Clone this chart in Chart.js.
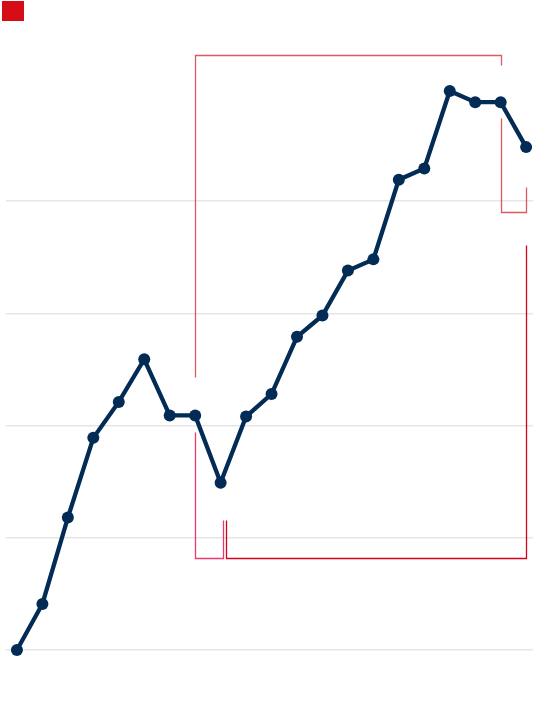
<!DOCTYPE html>
<html lang="en">
<head>
    <meta charset="UTF-8">
    <title>Line chart</title>
    <script src="https://cdn.jsdelivr.net/npm/chart.js"></script>
    <style>
        html, body {
            margin: 0;
            padding: 0;
            background: #ffffff;
        }
        #wrap {
            position: relative;
            width: 560px;
            height: 714px;
        }
        #legend-box {
            position: absolute;
            left: 2px;
            top: 1px;
            width: 22px;
            height: 20px;
            background-color: #d60d16;
        }
    </style>
</head>
<body>
    <div id="wrap">
        <canvas id="lineChart" width="560" height="714"></canvas>
        <div id="legend-box"></div>
    </div>

    <script>
        // data points, one per period
        var periods = [1, 2, 3, 4, 5, 6, 7, 8, 9, 10, 11, 12, 13, 14, 15, 16, 17, 18, 19, 20, 21];
        var values = [0, 4.1, 11.8, 18.9, 22.1, 25.9, 20.9, 20.9, 14.9, 20.8, 22.8,
                      27.9, 29.8, 33.8, 34.8, 41.9, 42.9, 49.8, 48.8, 48.8, 44.8];
        var gridTicks = [0, 10, 20, 30, 40];

        // bracket annotations, in data space: [period index, value]
        var bracketTop = [[7, 24.35], [7, 53.0], [19, 53.0], [19, 52.1]];
        var bracketEnd = [[19, 47.4], [19, 39.05], [20, 39.05], [20, 41.25]];
        var bracketLow = [[20, 36.1], [20, 8.17], [8.2, 8.17], [8.2, 11.6]];
        var bracketDip = [[7, 19.45], [7, 8.17], [8.08, 8.17], [8.08, 11.6]];

        var brackets = [
            { pts: bracketTop, color: 'rgba(214, 48, 56, 0.8)' },
            { pts: bracketEnd, color: 'rgba(214, 48, 56, 0.8)' },
            { pts: bracketLow, color: '#d9001b' },
            { pts: bracketDip, color: '#e83a6e' }
        ];

        var bracketPlugin = {
            id: 'brackets',
            beforeDatasetsDraw: function(chart) {
                var ctx = chart.ctx;
                var xs = chart.scales.x;
                var ys = chart.scales.y;
                ctx.save();
                ctx.lineWidth = 1.3;
                brackets.forEach(function(b) {
                    ctx.beginPath();
                    b.pts.forEach(function(p, i) {
                        var px = Math.round(xs.getPixelForValue(p[0])) + 0.5;
                        var py = Math.round(ys.getPixelForValue(p[1])) + 0.5;
                        if (i === 0) ctx.moveTo(px, py); else ctx.lineTo(px, py);
                    });
                    ctx.strokeStyle = b.color;
                    ctx.stroke();
                });
                ctx.restore();
            }
        };

        var ctx = document.getElementById('lineChart').getContext('2d');
        var chart = new Chart(ctx, {
            type: 'line',
            data: {
                datasets: [{
                    data: values.map(function(v, i) { return { x: i, y: v }; }),
                    borderColor: '#022c55',
                    backgroundColor: '#022c55',
                    pointBackgroundColor: '#022c55',
                    pointBorderColor: '#022c55',
                    borderWidth: 4.3,
                    pointRadius: 6,
                    pointBorderWidth: 0,
                    tension: 0,
                    fill: false,
                    clip: false
                }]
            },
            options: {
                responsive: false,
                animation: false,
                events: [],
                layout: {
                    padding: { left: 4, right: 27, top: 21.4, bottom: 19.1 }
                },
                plugins: {
                    legend: { display: false },
                    tooltip: { enabled: false }
                },
                scales: {
                    x: {
                        type: 'linear',
                        min: -0.43,
                        max: 20.27,
                        display: false
                    },
                    y: {
                        min: -4,
                        max: 56,
                        afterBuildTicks: function(axis) {
                            axis.ticks = gridTicks.map(function(v) { return { value: v }; });
                        },
                        ticks: { display: false },
                        border: { display: false },
                        grid: {
                            color: '#e6e6e6',
                            lineWidth: 1.5,
                            drawTicks: false
                        }
                    }
                }
            },
            plugins: [bracketPlugin]
        });
    </script>
</body>
</html>
